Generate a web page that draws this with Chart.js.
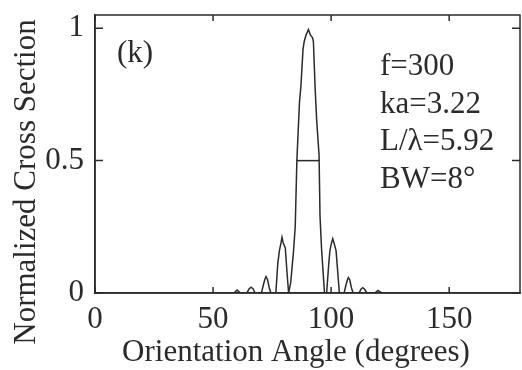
<!DOCTYPE html>
<html>
<head>
<meta charset="utf-8">
<script src="https://cdn.jsdelivr.net/npm/chart.js@4.4.1/dist/chart.umd.min.js"></script>
<style>
  html, body { margin: 0; padding: 0; background: #fff; }
  #wrap { width: 522px; height: 370px; }
</style>
</head>
<body>
<div id="wrap"><canvas id="myChart" width="522" height="370"></canvas></div>
<script>
// traced curve vertices (angle in degrees, normalized cross section)
const angles = [0, 58.8, 60.2, 61.6, 64.3, 65.2, 66.1, 67.0, 67.8,
    70.5, 71.3, 71.9, 72.4, 73.1, 73.8, 74.5,
    76.6, 77.4, 78.1, 78.8, 79.2, 79.7, 80.6, 81.3, 82.0,
    82.9, 84.1, 84.8, 85.5, 86.6, 87.2, 88.1, 88.6, 89.4, 90.4, 91.2, 92.1, 92.5,
    93.2, 93.9, 94.9, 95.3, 96.0, 97.2,
    98.1, 99.0, 99.5, 100.2, 100.7, 101.2, 102.1, 102.8, 103.5,
    105.5, 106.3, 106.9, 107.3, 107.9, 108.6, 109.3,
    111.8, 112.7, 113.4, 114.2, 115.2,
    118.5, 119.8, 121.5, 180];
const crossSection = [0, 0, 0.011, 0, 0, 0.015, 0.022, 0.015, 0,
    0, 0.03, 0.05, 0.062, 0.05, 0.02, 0,
    0, 0.11, 0.16, 0.19, 0.21, 0.19, 0.17, 0.08, 0,
    0.04, 0.16, 0.25, 0.5, 0.72, 0.78, 0.92, 0.95, 0.975, 0.995, 0.975, 0.965, 0.95,
    0.78, 0.65, 0.52, 0.29, 0.16, 0,
    0, 0.11, 0.16, 0.19, 0.205, 0.19, 0.16, 0.08, 0,
    0, 0.03, 0.05, 0.058, 0.05, 0.02, 0,
    0, 0.015, 0.02, 0.014, 0,
    0, 0.01, 0, 0];

// half-maximum bar
const halfAngles = [85.5, 95.0];
const halfValues = [0.5, 0.5];

const xTicks = [0, 50, 100, 150];
const yTicks = [0, 0.5, 1];
const yLabels = ['0', '0.5', '1'];

const panelLabel = '(k)';
const notes = ['f=300', 'ka=3.22', 'L/\u03bb=5.92', 'BW=8\u00b0'];
const xTitle = 'Orientation Angle (degrees)';
const yTitle = 'Normalized Cross Section';

const ink = '#2b2b2b';
const serif = '"Liberation Serif", "Times New Roman", serif';

// no label overhang padding, so the plot box sits where the original does
function noPad(s) {
    s.paddingTop = 0; s.paddingBottom = 0;
    s.paddingLeft = 0; s.paddingRight = 0;
}

const frame = {
    id: 'frame',
    afterDatasetsDraw(chart) {
        const { ctx, chartArea: a, scales: { x, y } } = chart;
        ctx.save();
        ctx.strokeStyle = ink;
        ctx.lineWidth = 1.5;
        ctx.strokeRect(a.left, a.top, a.right - a.left, a.bottom - a.top);
        ctx.beginPath();
        xTicks.forEach(v => {
            const px = x.getPixelForValue(v);
            ctx.moveTo(px, a.bottom); ctx.lineTo(px, a.bottom - 6);
            ctx.moveTo(px, a.top); ctx.lineTo(px, a.top + 6);
        });
        yTicks.forEach(v => {
            const py = y.getPixelForValue(v);
            ctx.moveTo(a.left, py); ctx.lineTo(a.left + 8, py);
            ctx.moveTo(a.right, py); ctx.lineTo(a.right - 8, py);
        });
        ctx.stroke();

        ctx.fillStyle = ink;
        ctx.font = '31px ' + serif;
        ctx.textAlign = 'left';
        ctx.textBaseline = 'alphabetic';
        ctx.fillText(panelLabel, 117, 62);
        notes.forEach((t, i) => ctx.fillText(t, 380, 75 + i * 37.7));

        ctx.textAlign = 'center';
        ctx.fillText(xTitle, 296, 361);
        ctx.translate(35, 182);
        ctx.rotate(-Math.PI / 2);
        ctx.fillText(yTitle, 0, 0);
        ctx.restore();
    }
};

const ctx = document.getElementById('myChart').getContext('2d');
const chart = new Chart(ctx, {
    type: 'line',
    data: {
        datasets: [{
            label: 'Cross section',
            data: angles.map((a, i) => ({ x: a, y: crossSection[i] })),
            borderColor: ink,
            borderWidth: 1.5,
            pointRadius: 0,
            tension: 0,
            fill: false,
        }, {
            label: 'Half maximum',
            data: halfAngles.map((a, i) => ({ x: a, y: halfValues[i] })),
            borderColor: ink,
            borderWidth: 1.5,
            pointRadius: 0,
            fill: false,
        }]
    },
    options: {
        responsive: false,
        animation: false,
        layout: { padding: { top: 15, right: 2, left: 0, bottom: 0 } },
        plugins: {
            legend: { display: false },
            tooltip: { enabled: false },
        },
        scales: {
            x: {
                type: 'linear',
                min: 0,
                max: 180,
                afterBuildTicks: s => { s.ticks = xTicks.map(v => ({ value: v })); },
                afterFit: s => { s.height = 77; noPad(s); },
                grid: { display: false, drawTicks: false },
                border: { display: true, color: ink, width: 1.5 },
                ticks: {
                    color: ink,
                    padding: 8,
                    maxRotation: 0,
                    autoSkip: false,
                    font: { family: serif, size: 31 },
                },
            },
            y: {
                min: 0,
                max: 1.05,
                afterBuildTicks: s => { s.ticks = yTicks.map(v => ({ value: v })); },
                afterFit: s => { s.width = 95; noPad(s); },
                grid: { display: false, drawTicks: false },
                border: { display: true, color: ink, width: 1.5 },
                ticks: {
                    color: ink,
                    padding: 11,
                    font: { family: serif, size: 31 },
                    callback: v => yLabels[yTicks.indexOf(v)] ?? '',
                },
            }
        }
    },
    plugins: [frame]
});
</script>
</body>
</html>
